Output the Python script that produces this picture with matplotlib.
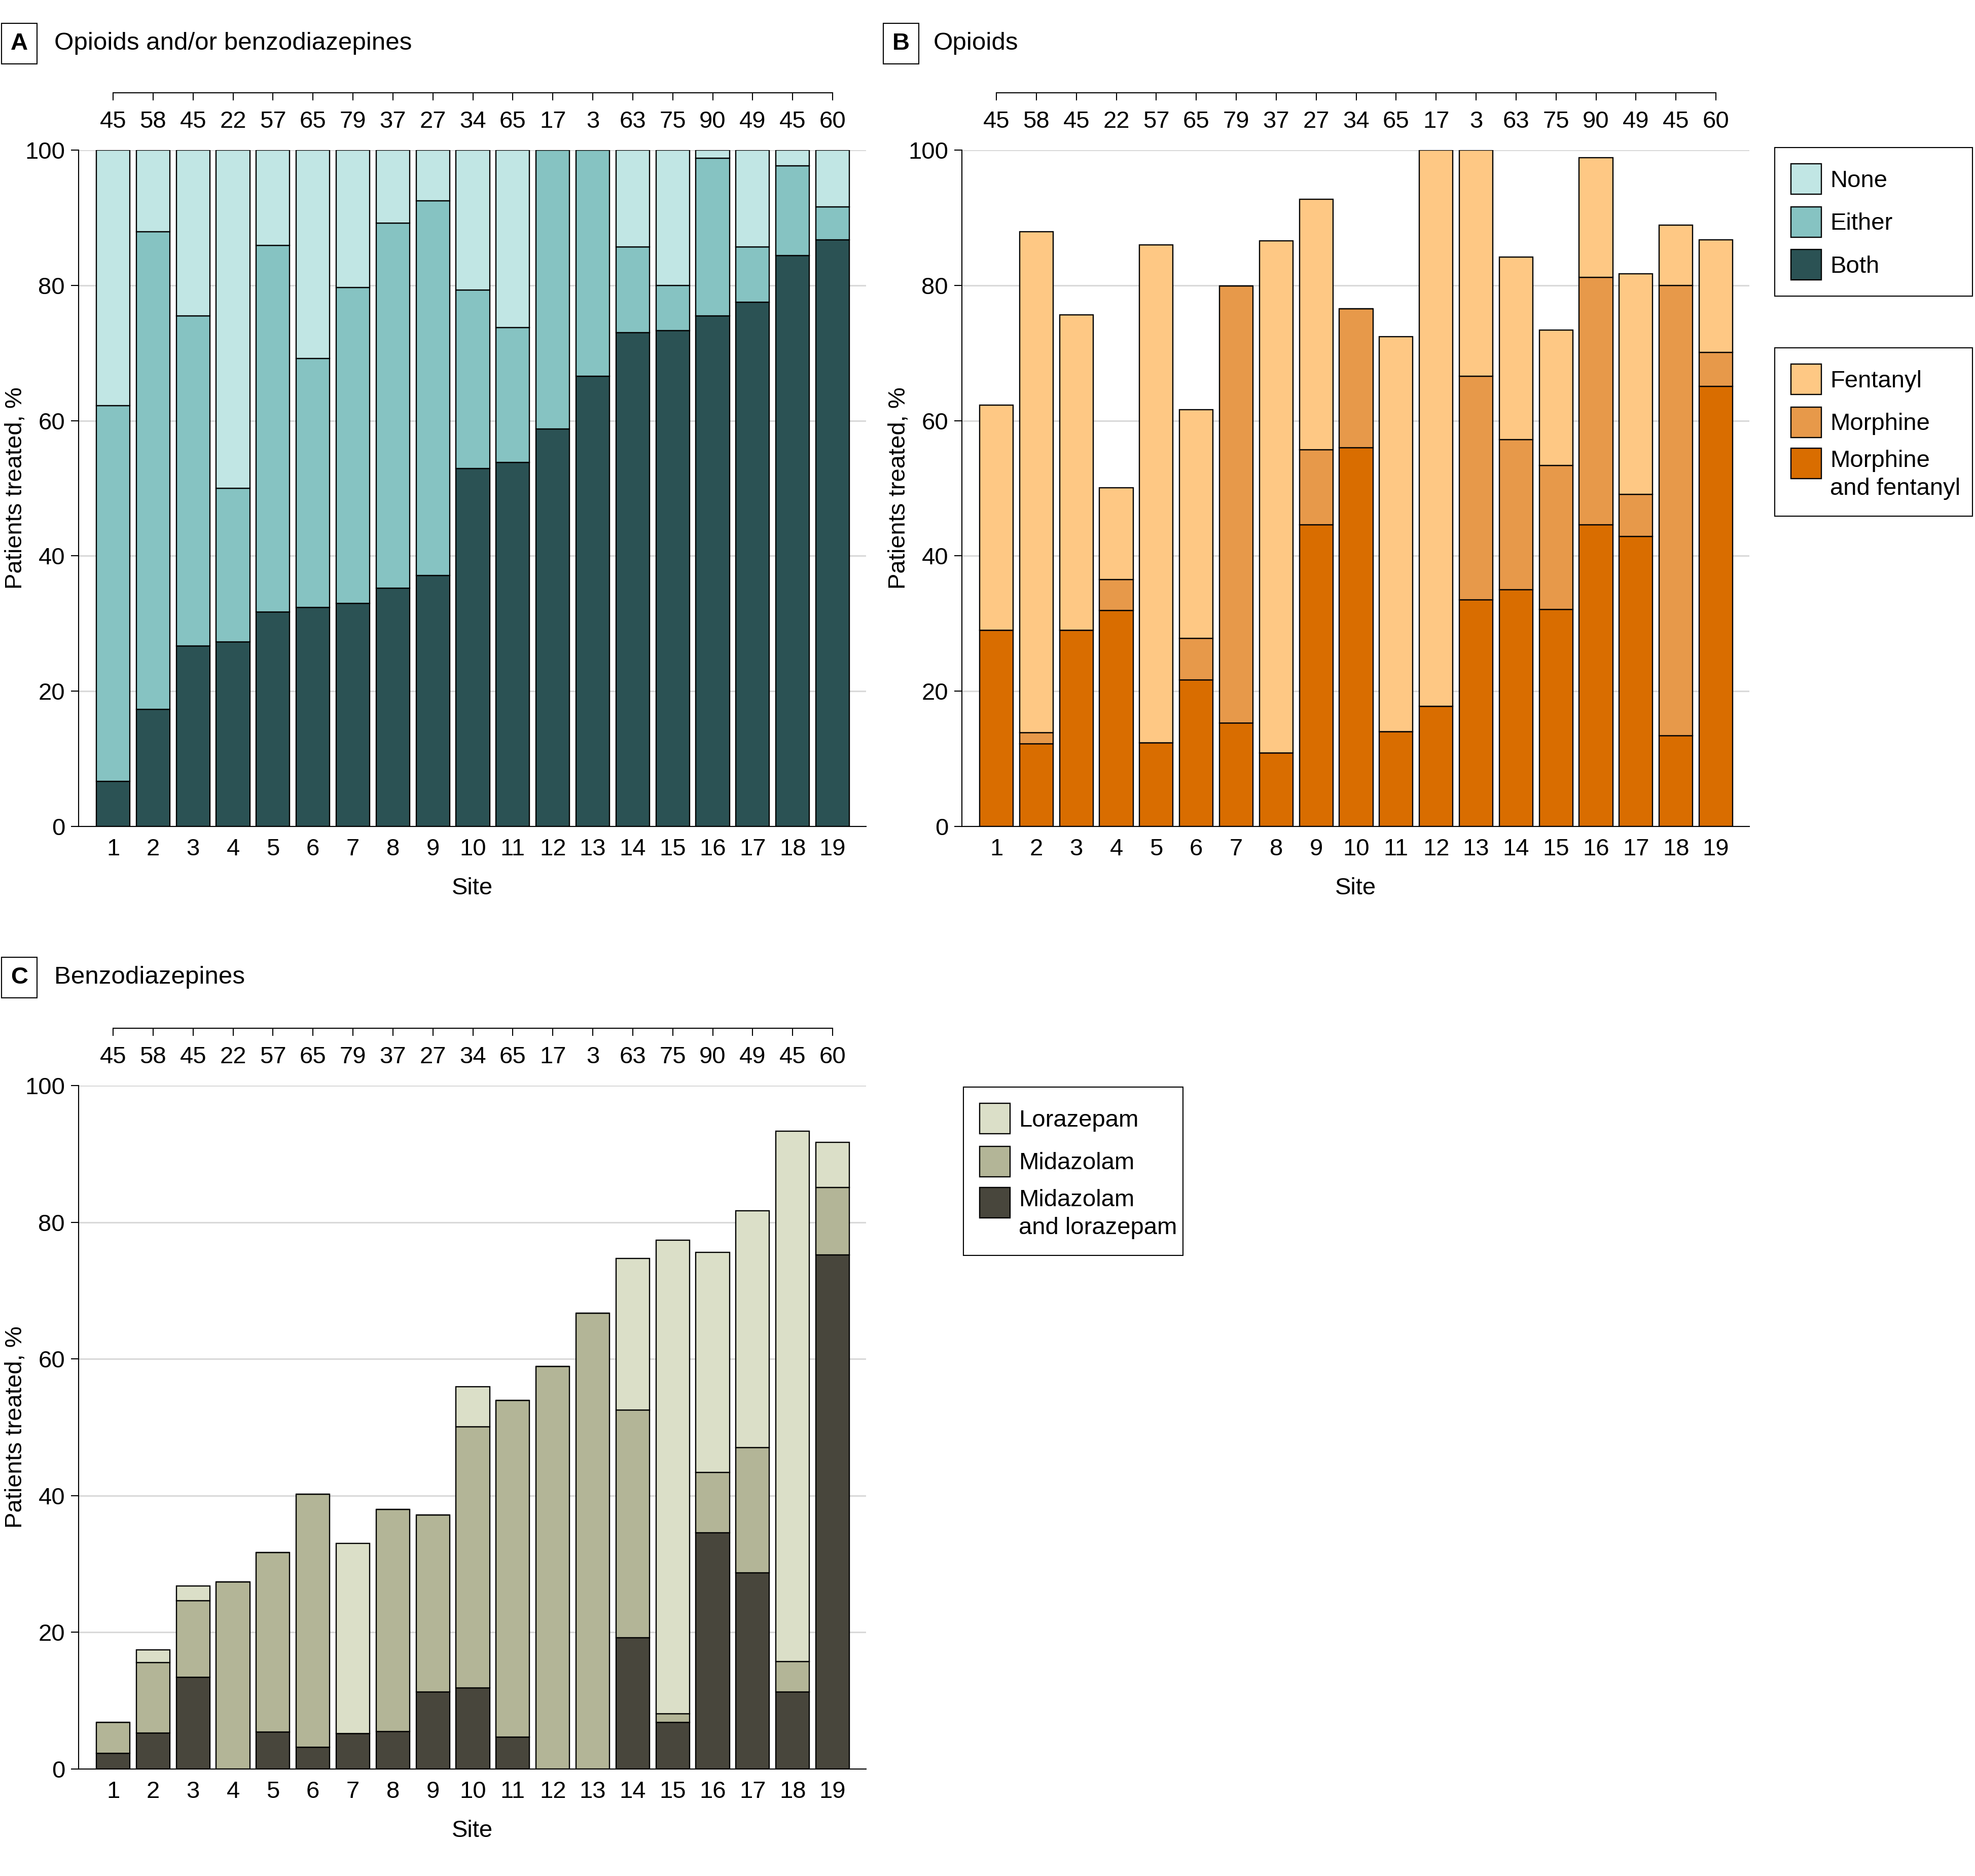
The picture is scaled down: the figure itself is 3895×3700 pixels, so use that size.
import numpy as np
import matplotlib
matplotlib.use('Agg')
import matplotlib.pyplot as plt
from matplotlib.patches import Rectangle
from matplotlib.legend_handler import HandlerPatch, update_from_first_child

plt.rcParams['font.family'] = ['Liberation Sans', 'DejaVu Sans']

# ---- data ----
sites = list(range(1, 20))
n_patients = [45, 58, 45, 22, 57, 65, 79, 37, 27, 34, 65, 17, 3, 63, 75, 90, 49, 45, 60]

# A: opioids and/or benzodiazepines
both = [6.7, 17.3, 26.7, 27.3, 31.7, 32.4, 33.0, 35.2, 37.1, 52.9, 53.8, 58.8, 66.6, 73.0, 73.3, 75.5, 77.5, 84.4, 86.7]
either = [55.5, 70.6, 48.8, 22.7, 54.2, 36.8, 46.7, 54.0, 55.4, 26.4, 20.0, 41.2, 33.4, 12.7, 6.7, 23.3, 8.2, 13.3, 4.9]
none = [37.8, 12.1, 24.5, 50.0, 14.1, 30.8, 20.3, 10.8, 7.5, 20.7, 26.2, 0, 0, 14.3, 20.0, 1.2, 14.3, 2.3, 8.4]

# B: opioids
morph_fent = [29.0, 12.2, 29.0, 31.9, 12.4, 21.7, 15.3, 10.9, 44.6, 56.0, 14.0, 17.8, 33.5, 35.0, 32.1, 44.6, 42.9, 13.4, 65.1]
morphine = [0, 1.7, 0, 4.6, 0, 6.1, 64.6, 0, 11.1, 20.5, 0, 0, 33.1, 22.2, 21.3, 36.6, 6.2, 66.6, 5.0]
fentanyl = [33.3, 74.0, 46.6, 13.6, 73.6, 33.8, 0, 75.7, 37.0, 0, 58.4, 82.2, 33.4, 27.0, 20.0, 17.7, 32.6, 8.9, 16.6]

# C: benzodiazepines
mid_lor = [2.3, 5.3, 13.4, 0, 5.4, 3.2, 5.2, 5.5, 11.3, 11.9, 4.7, 0, 0, 19.2, 6.8, 34.6, 28.7, 11.3, 75.2]
midazolam = [4.5, 10.3, 11.2, 27.4, 26.3, 37.0, 0, 32.5, 25.9, 38.2, 49.2, 58.9, 66.7, 33.3, 1.3, 8.8, 18.3, 4.4, 9.9]
lorazepam = [0, 1.8, 2.2, 0, 0, 0, 27.8, 0, 0, 5.8, 0, 0, 0, 22.2, 69.3, 32.2, 34.7, 77.6, 6.6]

W, H = 3895, 3700
FS = 34
EDGE = 1.7

fig = plt.figure(figsize=(W / 100, H / 100), dpi=100)


def setup(ax):
    ax.set_xlim(0.137, 19.837)
    ax.set_ylim(0, 100)
    ax.set_yticks([0, 20, 40, 60, 80, 100])
    ax.set_xticks(sites)
    ax.spines[['top', 'right']].set_visible(False)
    for s in ['left', 'bottom']:
        ax.spines[s].set_linewidth(1.5)
    ax.tick_params(axis='y', length=10.8, width=1.5, pad=8.6, labelsize=FS)
    ax.tick_params(axis='x', length=0, pad=16.5, labelsize=FS)
    ax.grid(axis='y', color='#d9d9d9', lw=2.2)
    ax.set_axisbelow(True)
    ax.set_xlabel('Site', fontsize=FS, labelpad=24)
    ax.set_ylabel('Patients treated, %', fontsize=FS, labelpad=-3)
    # sample size per site, shown on a detached top axis with labels under the line
    top = ax.twiny()
    top.set_xlim(ax.get_xlim())
    top.set_xticks(sites, labels=[str(v) for v in n_patients])
    top.tick_params(axis='x', direction='in', length=10.8, width=1.5, pad=-57, labelsize=FS)
    for s in ['left', 'right', 'bottom']:
        top.spines[s].set_visible(False)
    top.spines['top'].set_position(('outward', 81.4))
    top.spines['top'].set_bounds(1, 19)
    top.spines['top'].set_linewidth(1.5)


def stack(ax, series, colors):
    bottom = np.zeros(len(sites))
    conts = []
    for vals, col in zip(series, colors):
        c = ax.bar(sites, vals, bottom=bottom, width=0.84, color=col,
                   edgecolor='black', lw=EDGE)
        bottom = bottom + np.array(vals)
        conts.append(c)
    return conts


def square_up(legend, orig_handle, xdescent, ydescent, width, height, fontsize):
    # put the swatch next to the first line of a two-line label
    return Rectangle((-xdescent, -ydescent + 0.5 * fontsize), width, height)


def make_legend(handles, labels, x0, w, top, two_line=None):
    hmap = {}
    if two_line is not None:
        hmap[two_line] = HandlerPatch(patch_func=square_up, update_func=update_from_first_child)
    leg = fig.legend(handles, labels, loc='upper left',
                     bbox_to_anchor=(x0 / W, 1 - top / H, w / W, 0),
                     bbox_transform=fig.transFigure, mode='expand', borderaxespad=0,
                     fontsize=FS, handlelength=1.27, handleheight=1.577,
                     handletextpad=0.36, labelspacing=0.52, borderpad=0.68,
                     fancybox=False, edgecolor='black', framealpha=1,
                     handler_map=hmap)
    leg.get_frame().set_linewidth(1.5)
    for t in leg.get_texts():
        t.set_linespacing(1.31)
    return leg


def panel_title(x_box, x_text, y, letter, title):
    fig.text(x_box / W, 1 - y / H, letter, fontsize=FS, fontweight='bold',
             ha='center', va='center',
             bbox=dict(boxstyle='square,pad=0.38', fc='white', ec='black', lw=1.5))
    fig.text(x_text / W, 1 - y / H, title, fontsize=35.5, va='center')


# ---- panel A ----
axA = fig.add_axes([155 / W, 1 - 1630 / H, 1553 / W, 1334 / H])
setup(axA)
cA = stack(axA, [both, either, none], ['#2b5254', '#86c3c2', '#c1e6e4'])
panel_title(38, 107, 86, 'A', 'Opioids and/or benzodiazepines')

# ---- panel B ----
axB = fig.add_axes([1897 / W, 1 - 1630 / H, 1553 / W, 1334 / H])
setup(axB)
cB = stack(axB, [morph_fent, morphine, fentanyl], ['#d96d00', '#e7994a', '#fec884'])
panel_title(1777, 1841, 86, 'B', 'Opioids')

# ---- panel C ----
axC = fig.add_axes([155 / W, 1 - 3489 / H, 1553 / W, 1348 / H])
setup(axC)
cC = stack(axC, [mid_lor, midazolam, lorazepam], ['#48463c', '#b3b597', '#dbdfc8'])
panel_title(38, 107, 1928, 'C', 'Benzodiazepines')

# ---- legends ----
make_legend([cA[2], cA[1], cA[0]], ['None', 'Either', 'Both'], 3500, 390, 291)
make_legend([cB[2], cB[1], cB[0]], ['Fentanyl', 'Morphine', 'Morphine\nand fentanyl'],
            3500, 390, 686, two_line=cB[0])
make_legend([cC[2], cC[1], cC[0]], ['Lorazepam', 'Midazolam', 'Midazolam\nand lorazepam'],
            1900, 433, 2144, two_line=cC[0])

fig.savefig('out.png', dpi=100)
